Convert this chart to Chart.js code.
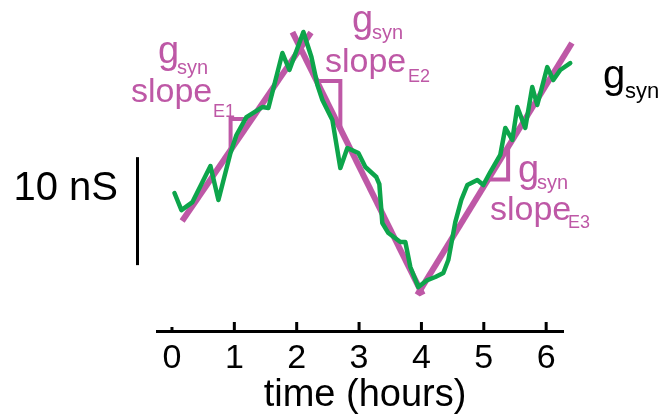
<!DOCTYPE html>
<html><head><meta charset="utf-8">
<script src="https://cdn.jsdelivr.net/npm/chart.js@4/dist/chart.umd.min.js"></script>
<style>html,body{margin:0;padding:0;background:#fff}#wrap{width:664px;height:420px}</style>
</head><body><div id="wrap"><canvas id="c" width="664" height="420"></canvas></div>
<script>
// ---- data (time in hours, conductance in nS) ----
const gsynT = [0.040,0.152,0.329,0.617,0.745,0.938,1.034,1.194,1.450,1.546,1.771,1.883,2.107,2.236,2.332,2.412,2.572,2.700,2.812,2.989,3.101,3.277,3.325,3.373,3.470,3.662,3.742,3.822,3.950,4.095,4.223,4.351,4.431,4.543,4.639,4.736,4.896,4.992,5.104,5.264,5.345,5.457,5.537,5.665,5.777,5.857,6.018,6.114,6.226,6.386];
const gsynV = [12.78,11.20,11.94,15.28,12.13,16.48,18.15,19.81,20.74,20.65,25.74,24.17,27.69,25.37,22.78,21.39,19.54,15.09,16.94,16.48,15.19,14.26,13.61,10.00,9.07,8.24,8.24,5.93,4.07,4.72,5.00,5.37,6.57,10.09,12.13,13.52,13.98,13.52,14.72,16.30,18.80,17.69,20.74,18.80,22.59,20.93,24.44,23.24,24.17,24.81];
const fitT = [0.163, 2.059, 3.982, 6.413];
const fitV = [10.19, 26.20, 3.80, 26.67];
const fitOvershoot = [[0,0.09],[0.066,0.02],[0.02,0]];
const slopeTriangles = [ {seg:0,t0:0.94,t1:1.28,corner:'t0'}, {seg:1,t0:2.32,t1:2.70,corner:'t1'}, {seg:2,t0:5.07,t1:5.39,corner:'t1'} ];
const xTicks = [0,1,2,3,4,5,6];
const xTitle = 'time (hours)';
const xRange = [-0.24, 6.27];
const yRange = [0, 28.8];
const scaleBarT = -0.553;
const scaleBarV = [6.1, 16.1];
const scaleBarLabel = '10 nS';

const MAG = '#BE58A6', GRN = '#0DA54B';
const FONT = '"Liberation Sans", Arial, Helvetica, sans-serif';

function fitAt(seg,t){ const a=fitT[seg], b=fitT[seg+1]; return fitV[seg] + (fitV[seg+1]-fitV[seg])*(t-a)/(b-a); }

const datasets = [];
datasets.push({data: gsynT.map((t,i)=>({x:t,y:gsynV[i]})), borderColor:GRN, borderWidth:4.5, pointRadius:0, tension:0, borderJoinStyle:'round', borderCapStyle:'round', clip:false});
for (let i=0;i<3;i++){
  const dx=fitT[i+1]-fitT[i], dy=fitV[i+1]-fitV[i], o=fitOvershoot[i];
  datasets.push({data:[{x:fitT[i]-dx*o[0],y:fitV[i]-dy*o[0]},{x:fitT[i+1]+dx*o[1],y:fitV[i+1]+dy*o[1]}], borderColor:MAG, borderWidth:6, pointRadius:0, borderCapStyle:'butt', clip:false});
}
slopeTriangles.forEach(tr=>{
  const v0=fitAt(tr.seg,tr.t0), v1=fitAt(tr.seg,tr.t1);
  const c = tr.corner==='t0' ? {x:tr.t0,y:v1} : {x:tr.t1,y:v0};
  datasets.push({data:[{x:tr.t0,y:v0},c,{x:tr.t1,y:v1}], borderColor:MAG, borderWidth:4, pointRadius:0, borderJoinStyle:'miter', borderCapStyle:'butt', clip:false});
});
datasets.push({data:[{x:scaleBarT,y:scaleBarV[0]},{x:scaleBarT,y:scaleBarV[1]}], borderColor:'#000', borderWidth:3, pointRadius:0, clip:false});

const texts = [
 ['g',158,63,38,MAG], ['syn',177,74,20,MAG], ['slope',131,102,34,MAG], ['E1',213,117,18,MAG],
 ['g',352,32,38,MAG], ['syn',372,39,20,MAG], ['slope',325,72,34,MAG], ['E2',408,82,18,MAG],
 ['g',518,182,38,MAG], ['syn',537,189,20,MAG], ['slope',490,220,34,MAG], ['E3',568,228,18,MAG],
 ['g',603,88,40,'#000'], ['syn',625,98,22,'#000'],
 [scaleBarLabel,118,200,40,'#000','right']
];
const tickMarkLen = [4,9,9,9,9,9,9];

const deco = {
  id:'deco',
  afterDraw(chart){
    const ctx=chart.ctx, xs=chart.scales.x, a=chart.chartArea;
    ctx.save();
    ctx.strokeStyle='#000'; ctx.lineWidth=3; ctx.lineCap='butt';
    xs.ticks.forEach((t,i)=>{ const p=xs.getPixelForValue(t.value); ctx.beginPath(); ctx.moveTo(p,a.bottom); ctx.lineTo(p,a.bottom-tickMarkLen[i]); ctx.stroke(); });
    texts.forEach(([s,x,y,size,col,al])=>{
      ctx.font = size+'px '+FONT; ctx.fillStyle=col; ctx.textAlign=al||'left'; ctx.textBaseline='alphabetic';
      ctx.fillText(s,x,y);
    });
    ctx.font = '38px '+FONT; ctx.fillStyle='#000'; ctx.textAlign='center';
    ctx.fillText(xTitle, (xs.getPixelForValue(xTicks[0])+xs.getPixelForValue(xTicks[xTicks.length-1]))/2 + 6, 406);
    ctx.restore();
  }
};

new Chart(document.getElementById('c'), {
  type:'line',
  data:{datasets},
  options:{
    responsive:false, animation:false, devicePixelRatio:1,
    layout:{padding:{left:157,right:101,top:20,bottom:33}},
    plugins:{legend:{display:false}, tooltip:{enabled:false}},
    scales:{
      x:{type:'linear', min:xRange[0], max:xRange[1],
         afterBuildTicks:(s)=>{ s.ticks = xTicks.map(v=>({value:v})); },
         ticks:{color:'#000', padding:11, font:{size:34,family:FONT,lineHeight:1}, maxRotation:0, autoSkip:false},
         grid:{display:true, drawOnChartArea:false, drawTicks:false},
         border:{display:true, color:'#000', width:3},
         title:{display:false}
      },
      y:{type:'linear', display:false, min:yRange[0], max:yRange[1]}
    }
  },
  plugins:[deco]
});
</script></body></html>
